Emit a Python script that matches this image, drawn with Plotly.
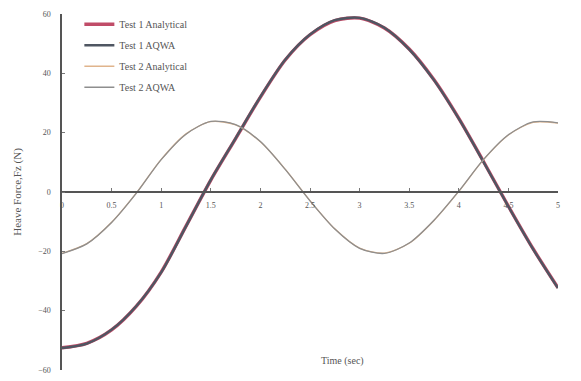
import plotly.graph_objects as go

# Time samples (s)
time_s = [0, 0.25, 0.5, 0.75, 1.0, 1.25, 1.5, 1.75, 2.0, 2.25, 2.5,
          2.75, 3.0, 3.25, 3.5, 3.75, 4.0, 4.25, 4.5, 4.75, 5.0]

# Heave force (N), test 1
test1_analytical = [-52.5, -51.0, -46.5, -38.5, -27.0, -11.5, 4.0, 18.0, 32.0, 44.5, 53.0,
                    57.8, 58.6, 55.3, 48.2, 37.8, 24.8, 10.2, -4.8, -19.2, -32.3]
test1_aqwa = [-52.6, -51.1, -46.4, -38.4, -27.1, -11.6, 4.1, 18.1, 32.1, 44.6, 53.1,
              57.9, 58.7, 55.4, 48.1, 37.7, 24.7, 10.1, -4.9, -19.3, -32.4]

# Heave force (N), test 2
test2_analytical = [-20.7, -17.4, -10.2, -0.3, 11.0, 19.6, 23.7, 22.6, 16.9, 7.7, -2.9,
                    -12.4, -18.9, -20.6, -17.3, -9.6, 0.2, 10.9, 19.2, 23.5, 23.2]
test2_aqwa = [-20.8, -17.5, -10.3, -0.4, 10.9, 19.5, 23.8, 22.7, 17.0, 7.6, -3.0,
              -12.5, -19.0, -20.7, -17.2, -9.5, 0.3, 11.0, 19.3, 23.6, 23.3]

x_ticks = [0, 0.5, 1, 1.5, 2, 2.5, 3, 3.5, 4, 4.5, 5]
x_tick_text = ["0", "0.5", "1", "1.5", "2", "2.5", "3", "3.5", "4", "4.5", "5"]
y_ticks = [-60, -40, -20, 0, 20, 40, 60]

series = [
    ("Test 1 Analytical", test1_analytical, "#c04c68", 3.4),
    ("Test 1 AQWA", test1_aqwa, "#4f5662", 2.4),
    ("Test 2 Analytical", test2_analytical, "#e0b48c", 1.3),
    ("Test 2 AQWA", test2_aqwa, "#8e8e8e", 1.3),
]

fig = go.Figure()
for i, (name, vals, color, width) in enumerate(series):
    fig.add_trace(go.Scatter(
        x=time_s, y=vals, name=name, mode="lines",
        line=dict(color=color, width=width, shape="spline", smoothing=0.8),
        legendgroup=f"g{i}",
    ))

serif = "Liberation Serif, Times New Roman, serif"
ink = "#555555"

fig.update_layout(
    width=581, height=381,
    margin=dict(l=62, r=23, t=14, b=6),
    paper_bgcolor="white", plot_bgcolor="white",
    font=dict(family=serif, color=ink),
    showlegend=True,
    legend=dict(
        x=0.035, y=1.012, xanchor="left", yanchor="top",
        bgcolor="rgba(0,0,0,0)", font=dict(size=10, family=serif, color=ink),
        tracegroupgap=2, itemwidth=30,
    ),
    xaxis=dict(
        range=[0, 5], tickvals=x_ticks, ticktext=x_tick_text,
        anchor="free", position=0.5,
        showline=True, linecolor=ink, linewidth=1.5,
        ticks="inside", ticklen=3, tickcolor="#777777",
        showgrid=False, zeroline=False,
        tickfont=dict(size=8, family=serif, color=ink),
        ticklabelstandoff=6,
    ),
    yaxis=dict(
        range=[-60, 60], tickvals=y_ticks,
        showline=True, linecolor=ink, linewidth=1.5,
        ticks="inside", ticklen=3, tickcolor="#777777",
        showgrid=False, zeroline=False,
        tickfont=dict(size=8, family=serif, color=ink),
        ticklabelstandoff=8,
        title=dict(text="Heave Force,Fz (N)", font=dict(size=11, family=serif, color=ink),
                   standoff=14),
    ),
    annotations=[dict(
        text="Time (sec)", xref="paper", yref="paper",
        x=0.565, y=0.025, xanchor="center", yanchor="middle",
        showarrow=False, font=dict(size=10, family=serif, color=ink),
    )],
)

fig.write_html("out.html")
